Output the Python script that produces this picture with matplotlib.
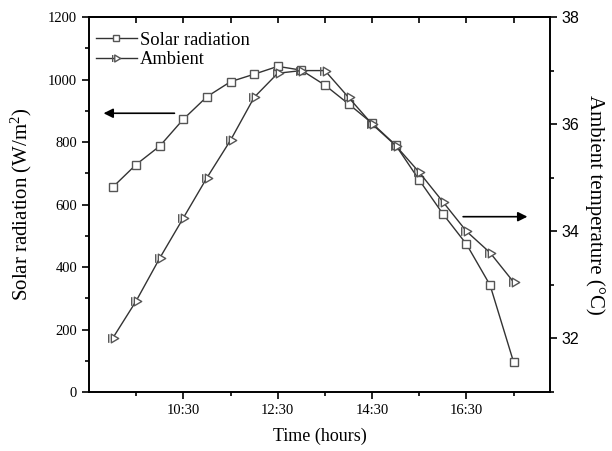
import matplotlib
matplotlib.use('Agg')
import matplotlib.pyplot as plt
from matplotlib.path import Path
from matplotlib.ticker import MultipleLocator, FixedLocator

# data
times = ["9:00", "9:30", "10:00", "10:30", "11:00", "11:30", "12:00", "12:30", "13:00",
         "13:30", "14:00", "14:30", "15:00", "15:30", "16:00", "16:30", "17:00", "17:30"]
solar = [655, 728, 787, 873, 945, 993, 1017, 1042, 1030,
         982, 922, 860, 790, 678, 570, 473, 342, 95]
ambient = [32.0, 32.7, 33.5, 34.25, 35.0, 35.7, 36.5, 36.95, 37.0,
           37.0, 36.5, 36.0, 35.6, 35.1, 34.55, 34.0, 33.6, 33.05]
xtick_labels = ["10:30", "12:30", "14:30", "16:30"]

def to_hours(s):
    h, m = s.split(":")
    return int(h) + int(m) / 60

x = [to_hours(t) for t in times]

serif = "Liberation Serif"
sans = "Liberation Sans"
line_col = "#333333"
edge_col = "#555555"

plt.rcParams["mathtext.fontset"] = "custom"
plt.rcParams["mathtext.rm"] = serif
plt.rcParams["mathtext.it"] = serif + ":italic"

# triangle with a small bar, like the Origin symbol
tri_marker = Path(
    [(-0.55, -0.5), (-0.55, 0.5), (-0.25, -0.5), (0.6, 0.0), (-0.25, 0.5), (-0.25, -0.5)],
    [Path.MOVETO, Path.LINETO, Path.MOVETO, Path.LINETO, Path.LINETO, Path.CLOSEPOLY],
)

fig = plt.figure(figsize=(6.12, 4.51), dpi=100)
ax = fig.add_axes([0.1454, 0.1308, 0.7533, 0.8315])
ax2 = ax.twinx()

ax.plot(x, solar, color=line_col, lw=1.0, marker="s", ms=6, mfc="white",
        mec=edge_col, mew=1.0, label="Solar radiation", zorder=3)
ax2.plot(x, ambient, color=line_col, lw=1.0, marker=tri_marker, ms=7.5, mfc="white",
         mec=edge_col, mew=1.0, label="Ambient", zorder=3)

ax.set_xlim(8.5, 18.27)
ax.set_ylim(0, 1200)
ax2.set_ylim(31, 38)

ax.xaxis.set_major_locator(FixedLocator([to_hours(t) for t in xtick_labels]))
ax.set_xticklabels(xtick_labels, fontfamily=serif, fontsize=10.5)
ax.xaxis.set_minor_locator(FixedLocator([9.5, 11.5, 13.5, 15.5, 17.5]))
ax.yaxis.set_major_locator(MultipleLocator(200))
ax.yaxis.set_minor_locator(MultipleLocator(100))
for lab in ax.get_yticklabels():
    lab.set_fontfamily(serif)
    lab.set_fontsize(10.5)
ax2.yaxis.set_major_locator(MultipleLocator(2))
ax2.yaxis.set_minor_locator(MultipleLocator(1))
for lab in ax2.get_yticklabels():
    lab.set_fontfamily(sans)
    lab.set_fontsize(11.5)

ax.tick_params(which="major", direction="out", length=5, width=1.2)
ax.tick_params(which="minor", direction="out", length=3, width=1.2)
ax2.tick_params(which="major", direction="out", length=5, width=1.2)
ax2.tick_params(which="minor", direction="out", length=3, width=1.2)

top = ax.secondary_xaxis("top")
top.set_xticks([9.5, 10.5, 11.5, 12.5, 13.5, 14.5, 15.5, 16.5, 17.5])
top.tick_params(direction="in", length=4, width=1.2, labeltop=False)

for a in (ax, ax2):
    for sp in a.spines.values():
        sp.set_linewidth(1.2)
top.spines["top"].set_linewidth(1.2)

ax.set_xlabel("Time (hours)", fontfamily=serif, fontsize=13, labelpad=8)
ax.set_ylabel("Solar radiation (W/m$^2$)", fontfamily=serif, fontsize=15, labelpad=10)
ax2.set_ylabel("Ambient temperature (\u00b0C)", fontfamily=serif, fontsize=15,
               rotation=-90, labelpad=18)

# arrows pointing to each axis
ax.annotate("", xy=(8.75, 892), xytext=(10.37, 892),
            arrowprops=dict(arrowstyle="-|>", color="black", lw=1.2, mutation_scale=14))
ax.annotate("", xy=(17.85, 561), xytext=(16.37, 561),
            arrowprops=dict(arrowstyle="-|>", color="black", lw=1.2, mutation_scale=14))

h1, l1 = ax.get_legend_handles_labels()
h2, l2 = ax2.get_legend_handles_labels()
ax.legend(h1 + h2, l1 + l2, loc="upper left", bbox_to_anchor=(-0.005, 0.985), frameon=False,
          prop={"family": serif, "size": 13.3}, handlelength=2.2, handletextpad=0.2,
          labelspacing=0.12, borderaxespad=0.3, borderpad=0.2, markerscale=0.8)

fig.savefig("out.png", dpi=100)
